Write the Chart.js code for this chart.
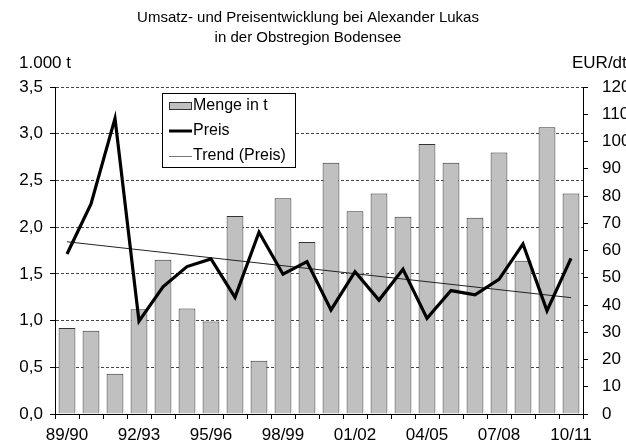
<!DOCTYPE html>
<html>
<head>
<meta charset="utf-8">
<script src="https://cdn.jsdelivr.net/npm/chart.js@4/dist/chart.umd.min.js"></script>
<style>
html,body{margin:0;padding:0;background:#fff;}
#wrap{width:626px;height:445px;position:relative;}
</style>
</head>
<body>
<div id="wrap"><canvas id="c" width="626" height="445"></canvas></div>
<script>
const seasons = ["89/90","90/91","91/92","92/93","93/94","94/95","95/96","96/97","97/98","98/99","99/00","00/01","01/02","02/03","03/04","04/05","05/06","06/07","07/08","08/09","09/10","10/11"];
const menge = [0.92,0.89,0.43,1.12,1.65,1.13,0.99,2.12,0.57,2.31,1.84,2.69,2.17,2.36,2.11,2.89,2.69,2.10,2.80,1.64,3.07,2.36];
const preis = [58.7,77.1,108.5,34.1,46.7,54.1,56.9,42.8,66.7,51.3,55.9,38.2,52.2,41.8,53.1,35.1,45.3,43.7,49.4,62.4,37.9,57.1];
const trend = [63.2,null,null,null,null,null,null,null,null,null,null,null,null,null,null,null,null,null,null,null,null,42.7];
const titleLines = ["Umsatz- und Preisentwicklung bei Alexander Lukas","in der Obstregion Bodensee"];
const leftUnit = "1.000 t";
const rightUnit = "EUR/dt";
const legendLabels = ["Menge in t","Preis","Trend (Preis)"];

const FONT = "'Liberation Sans', Arial, sans-serif";

const decor = {
  id: 'decor',
  afterDraw(chart) {
    const ctx = chart.ctx;
    ctx.save();
    ctx.fillStyle = '#000';
    ctx.textBaseline = 'middle';
    ctx.textAlign = 'center';
    ctx.font = "15px " + FONT;
    ctx.fillText(titleLines[0], 308, 18);
    ctx.fillText(titleLines[1], 308, 38);
    ctx.font = "17px " + FONT;
    ctx.textAlign = 'left';
    ctx.fillText(leftUnit, 19, 63);
    ctx.fillText(rightUnit, 572, 63);
    // legend
    ctx.font = "16px " + FONT;
    ctx.fillStyle = '#fff';
    ctx.fillRect(162.5, 93.5, 133, 74);
    ctx.strokeStyle = '#000';
    ctx.lineWidth = 1;
    ctx.strokeRect(162.5, 93.5, 133, 74);
    ctx.fillStyle = '#c0c0c0';
    ctx.fillRect(169.5, 102.5, 22, 7);
    ctx.strokeStyle = '#333';
    ctx.strokeRect(169.5, 102.5, 22, 7);
    ctx.strokeStyle = '#000';
    ctx.lineWidth = 3;
    ctx.beginPath(); ctx.moveTo(169, 131); ctx.lineTo(192, 131); ctx.stroke();
    ctx.strokeStyle = '#777';
    ctx.lineWidth = 1;
    ctx.beginPath(); ctx.moveTo(169, 156.5); ctx.lineTo(192, 156.5); ctx.stroke();
    ctx.fillStyle = '#000';
    ctx.fillText(legendLabels[0], 193, 106);
    ctx.fillText(legendLabels[1], 193, 131);
    ctx.fillText(legendLabels[2], 193, 156);
    ctx.restore();
  }
};

new Chart(document.getElementById('c'), {
  data: {
    labels: seasons,
    datasets: [
      {
        type: 'line', label: legendLabels[1], data: preis, yAxisID: 'y1',
        borderColor: '#000', borderWidth: 3.2, pointRadius: 0, tension: 0, order: 1,
        borderJoinStyle: 'miter'
      },
      {
        type: 'line', label: legendLabels[2], data: trend, yAxisID: 'y1',
        borderColor: '#222', borderWidth: 1, pointRadius: 0, spanGaps: true, order: 2
      },
      {
        type: 'bar', label: legendLabels[0], data: menge, yAxisID: 'y',
        backgroundColor: '#c0c0c0', borderColor: '#333', borderWidth: 1,
        categoryPercentage: 1, barPercentage: 0.7, order: 3
      }
    ]
  },
  options: {
    responsive: false,
    animation: false,
    events: [],
    layout: { padding: { top: 87, left: 0, right: 0, bottom: 0 } },
    plugins: { legend: { display: false }, title: { display: false }, tooltip: { enabled: false } },
    scales: {
      x: {
        type: 'category',
        offset: true,
        afterFit(s) { s.height = 31; },
        grid: { offset: true, drawOnChartArea: false, tickLength: 5, color: '#000', lineWidth: 1 },
        border: { display: true, color: '#000', width: 1 },
        ticks: {
          autoSkip: false, maxRotation: 0, minRotation: 0, padding: 6,
          color: '#000', font: { family: FONT, size: 17 },
          callback(v, i) { return i % 3 === 0 ? seasons[i] : ''; }
        }
      },
      y: {
        position: 'left', min: 0, max: 3.5,
        afterFit(s) { s.width = 55; },
        grid: { drawOnChartArea: true, tickLength: 5, color: '#444', tickColor: '#000', lineWidth: 1 },
        border: { display: true, color: '#000', width: 1, dash: [3, 2] },
        ticks: {
          stepSize: 0.5, padding: 7, color: '#000', font: { family: FONT, size: 17 },
          callback(v) { return Number(v).toFixed(1).replace('.', ','); }
        }
      },
      y1: {
        position: 'right', min: 0, max: 120,
        afterFit(s) { s.width = 43; },
        grid: { drawOnChartArea: false, tickLength: 5, color: '#000' },
        border: { display: true, color: '#000', width: 1 },
        ticks: { stepSize: 10, padding: 14, color: '#000', font: { family: FONT, size: 17 } }
      }
    }
  },
  plugins: [decor]
});
</script>
</body>
</html>
